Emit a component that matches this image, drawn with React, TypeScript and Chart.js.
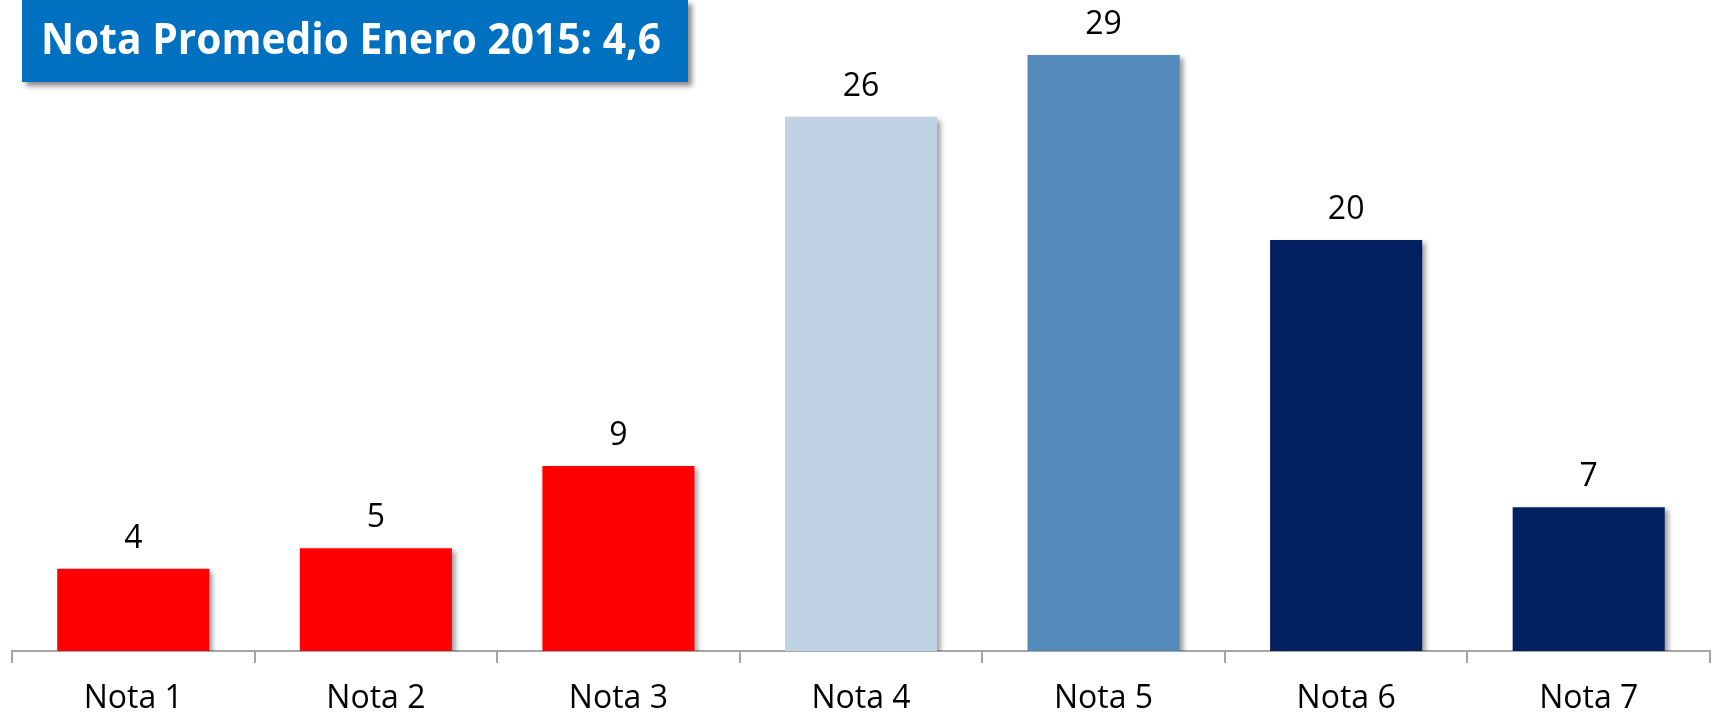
import React, { useEffect, useRef, useLayoutEffect } from "react";
import { Chart, registerables } from "chart.js";

Chart.register(...registerables);

const categories = ["Nota 1", "Nota 2", "Nota 3", "Nota 4", "Nota 5", "Nota 6", "Nota 7"];
const values = [4, 5, 9, 26, 29, 20, 7];
const barColors = ["#FF0000", "#FF0000", "#FF0000", "#C0D3E4", "#558BBA", "#022060", "#022060"];
const titleText = "Nota Promedio Enero 2015: 4,6";

const FONT = "'Open Sans', 'Noto Sans', sans-serif";

const shadowPlugin = {
  id: "barShadow",
  beforeDatasetsDraw(chart: any) {
    const ctx = chart.ctx;
    ctx.save();
    ctx.shadowColor = "rgba(0,0,0,0.38)";
    ctx.shadowOffsetX = 4;
    ctx.shadowOffsetY = 3;
    ctx.shadowBlur = 5;
  },
  afterDatasetsDraw(chart: any) {
    chart.ctx.restore();
  },
};

const labelPlugin = {
  id: "valueLabels",
  afterDatasetsDraw(chart: any) {
    const ctx = chart.ctx;
    const meta = chart.getDatasetMeta(0);
    ctx.save();
    ctx.font = `32px ${FONT}`;
    ctx.fillStyle = "#000000";
    ctx.textAlign = "center";
    ctx.textBaseline = "alphabetic";
    meta.data.forEach((bar: any, i: number) => {
      ctx.fillText(String(values[i]), bar.x, bar.y - 21);
    });
    ctx.restore();
  },
};

export default function App() {
  const canvasRef = useRef<HTMLCanvasElement | null>(null);
  const titleRef = useRef<HTMLSpanElement | null>(null);

  useLayoutEffect(() => {
    const el = titleRef.current;
    if (el) {
      el.style.transform = "none";
      const w = el.getBoundingClientRect().width;
      if (w > 0) el.style.transform = `scaleX(${620 / w})`;
    }
  }, []);

  useEffect(() => {
    if (!canvasRef.current) return;
    const chart = new Chart(canvasRef.current, {
      type: "bar",
      data: {
        labels: categories,
        datasets: [
          {
            data: values,
            backgroundColor: barColors,
            borderWidth: 0,
            barPercentage: 0.627,
            categoryPercentage: 1,
          },
        ],
      },
      options: {
        animation: false,
        responsive: false,
        maintainAspectRatio: false,
        layout: { padding: { left: 12, right: 3, top: 14, bottom: 0 } },
        plugins: {
          legend: { display: false },
          tooltip: { enabled: false },
          title: { display: false },
        },
        scales: {
          x: {
            grid: {
              display: true,
              drawOnChartArea: false,
              drawTicks: true,
              tickLength: 12,
              color: "#A6A6A6",
              lineWidth: 2,
              offset: true,
            },
            border: { display: true, color: "#A6A6A6", width: 2 },
            ticks: {
              color: "#000000",
              font: { size: 32, family: FONT },
              padding: 17,
              maxRotation: 0,
              autoSkip: false,
            },
            afterFit(scale: any) {
              scale.height = 64;
            },
          },
          y: {
            display: false,
            min: 0,
            max: 31,
          },
        },
      },
      plugins: [shadowPlugin, labelPlugin],
    });
    return () => chart.destroy();
  }, []);

  return (
    <div style={{ position: "absolute", left: 0, top: 0, width: 1713, height: 715, background: "#fff", overflow: "hidden" }}>
      <canvas ref={canvasRef} width={1713} height={715} style={{ position: "absolute", left: 0, top: 0, width: 1713, height: 715 }} />
      <div
        style={{
          position: "absolute",
          left: 22,
          top: 0,
          width: 666,
          height: 82,
          background: "#0070C0",
          boxShadow: "4px 4px 5px rgba(0,0,0,0.45)",
        }}
      >
        <span
          ref={titleRef}
          style={{
            position: "absolute",
            left: 19,
            top: 14,
            fontFamily: FONT,
            fontWeight: 700,
            fontSize: 43,
            lineHeight: "48px",
            color: "#FFFFFF",
            whiteSpace: "nowrap",
            transformOrigin: "left center",
            display: "inline-block",
          }}
        >
          {titleText}
        </span>
      </div>
    </div>
  );
}
